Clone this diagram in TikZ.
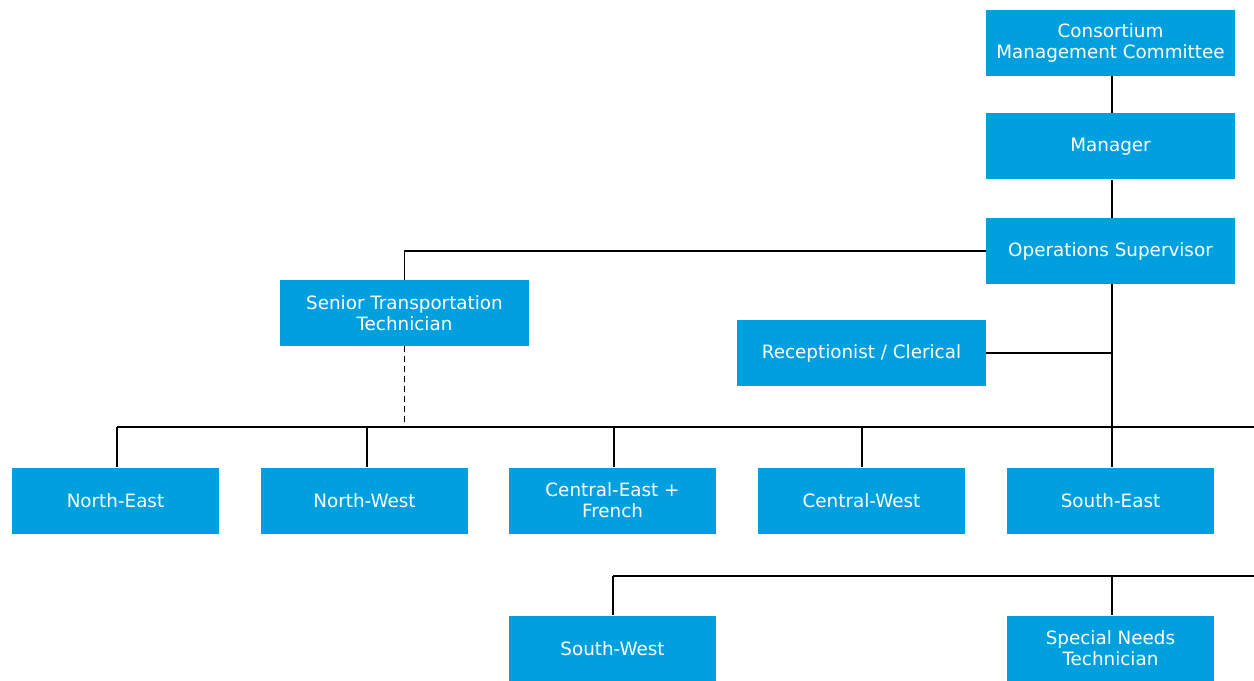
\documentclass[tikz,border=0pt]{standalone}
\usepackage{fontspec}
\setmainfont{DejaVu Sans}
\definecolor{boxblue}{RGB}{0,160,223}
\tikzset{
  orgbox/.style={fill=boxblue, text=white, inner sep=0pt, align=center,
    minimum height=49.5pt, font=\fontsize{13.75}{15.75}\selectfont},
  widebox/.style={orgbox, minimum width=186.75pt},
  unitbox/.style={orgbox, minimum width=155.25pt},
  link/.style={draw=black, line width=1.4pt},
  dotlink/.style={link, dash pattern=on 4.5pt off 3pt}
}
\begin{document}
\begin{tikzpicture}[x=0.75pt,y=-0.75pt]
\useasboundingbox (0,0) rectangle (1254,681);
\node[widebox] (cmc) at (1110.5,43) {Consortium\\Management Committee};
\node[widebox] (mgr) at (1110.5,146.5) {Manager};
\node[widebox] (ops) at (1110.5,251) {Operations Supervisor};
\node[widebox] (stt) at (404.5,313) {Senior Transportation\\Technician};
\node[widebox] (rec) at (861.5,353) {Receptionist / Clerical};
\node[unitbox] (ne) at (115.5,500.5) {North-East};
\node[unitbox] (nw) at (364.5,500.5) {North-West};
\node[unitbox] (ce) at (612.5,500.5) {Central-East +\\French};
\node[unitbox] (cw) at (861.5,500.5) {Central-West};
\node[unitbox] (se) at (1110.5,500.5) {South-East};
\node[unitbox] (sw) at (612.5,648.5) {South-West};
\node[unitbox] (snt) at (1110.5,648.5) {Special Needs\\Technician};
\coordinate (busA) at (1254,427);
\coordinate (busB) at (1254,576);
\coordinate (busAleft) at (117,427);
\coordinate (busBleft) at (613,576);
% links
\draw[link] (cmc.south -| 1112,0) -- (mgr.north -| 1112,0);
\draw[link] (mgr.south -| 1112,0) -- (ops.north -| 1112,0);
\draw[link] (ops.west) -| (stt.north);
\draw[link] (ops.south -| 1112,0) -- (se.north -| 1112,0);
\draw[link] (rec.east) -- (rec.east -| 1112,0);
\draw[link] (busAleft) -- (busA);
\draw[link] (busAleft) -- (busAleft |- ne.north);
\draw[link] (367,427) -- (nw.north -| 367,0);
\draw[link] (614,427) -- (ce.north -| 614,0);
\draw[link] (862,427) -- (cw.north -| 862,0);
\draw[dotlink] (stt.south) -- (stt.south |- busA);
\draw[link] (busBleft) -- (busB);
\draw[link] (busBleft) -- (busBleft |- sw.north);
\draw[link] (1112,576) -- (snt.north -| 1112,0);
\end{tikzpicture}
\end{document}
